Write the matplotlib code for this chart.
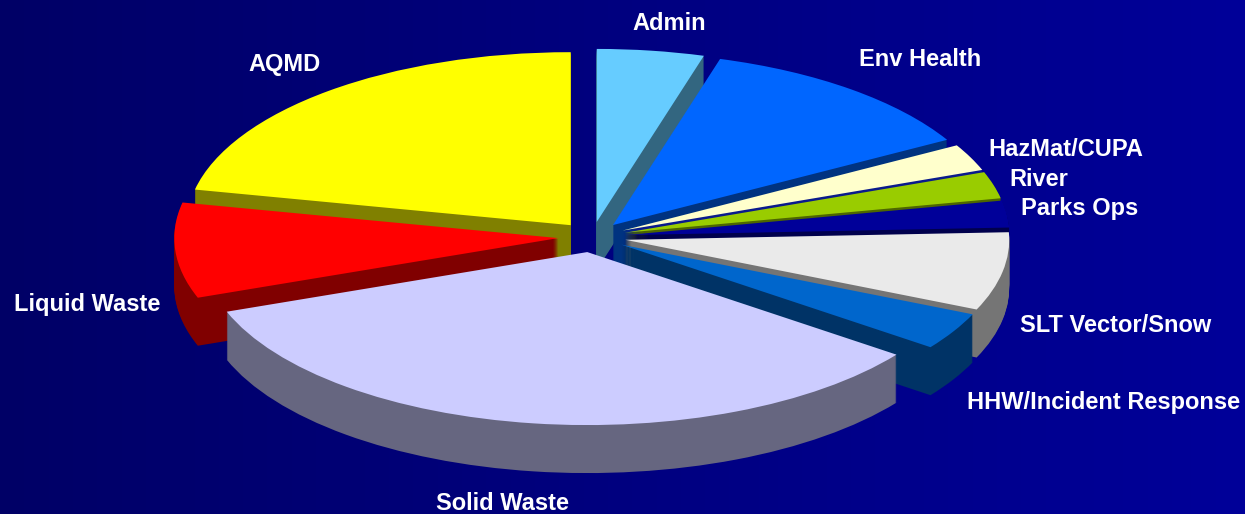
import numpy as np
import matplotlib
matplotlib.use('Agg')
import matplotlib.pyplot as plt
from matplotlib.colors import LinearSegmentedColormap
from matplotlib.patches import Wedge

labels = ['Admin', 'Env Health', 'HazMat/CUPA', 'River', 'Parks Ops',
          'SLT Vector/Snow', 'HHW/Incident Response', 'Solid Waste',
          'Liquid Waste', 'AQMD']
values = [4.5, 12.3, 2.5, 2.5, 2.5, 7.3, 3.5, 34.3, 8.9, 21.7]
top_colors = ['#66CCFF', '#0066FF', '#FFFFCC', '#99CC00', '#000099',
              '#EAEAEA', '#0066CC', '#CCCCFF', '#FF0000', '#FFFF00']
side_colors = ['#336680', '#003380', '#0A1A8C', '#4D6600', '#00004D',
               '#757575', '#003366', '#666680', '#800000', '#808000']
# back to front
draw_order = ['AQMD', 'Admin', 'Env Health', 'HazMat/CUPA', 'River', 'Parks Ops',
              'SLT Vector/Snow', 'HHW/Incident Response', 'Liquid Waste', 'Solid Waste']
label_px = [(669, 24), (920, 60), (1066, 150), (1039, 179), (1080, 208),
            (1116, 326), (1104, 403), (502, 503), (87, 304), (285, 64)]

W, H = 1245, 514
CX, CY = 592, 237
RX, RY = 384, 173
DEPTH = 48


def to_data(px, py):
    return (px - CX) / RX, (CY - py) / RY


fig = plt.figure(figsize=(W / 100, H / 100), dpi=100)
ax = fig.add_axes([0, 0, 1, 1])

x0, y1 = to_data(0, 0)
x1, y0 = to_data(W, H)

bg = LinearSegmentedColormap.from_list('bg', ['#000066', '#000099'])
ax.imshow(np.linspace(0, 1, 256).reshape(1, -1), cmap=bg, aspect='auto',
          extent=(x0, x1, y0, y1), zorder=0)

wedges, _ = ax.pie(values, explode=[0.088] * len(values), startangle=90,
                   counterclock=False, colors=top_colors,
                   wedgeprops={'linewidth': 0})

for i, name in enumerate(labels):
    w = wedges[i]
    z = 10 + draw_order.index(name) * 10
    # side walls: stack of the same wedge going down
    for d in range(DEPTH, 0, -1):
        ax.add_patch(Wedge((w.center[0], w.center[1] - d / RY), w.r, w.theta1, w.theta2,
                           facecolor=side_colors[i], linewidth=0, zorder=z))
    w.set_zorder(z + 1)

for name, (px, py) in zip(labels, label_px):
    tx, ty = to_data(px, py)
    ax.text(tx, ty, name, color='white', fontsize=17, fontweight='bold',
            family='Liberation Sans', ha='center', va='center', zorder=200)

ax.set_aspect('auto')
ax.set_xlim(x0, x1)
ax.set_ylim(y0, y1)
ax.axis('off')

fig.savefig('out.png', dpi=100)
